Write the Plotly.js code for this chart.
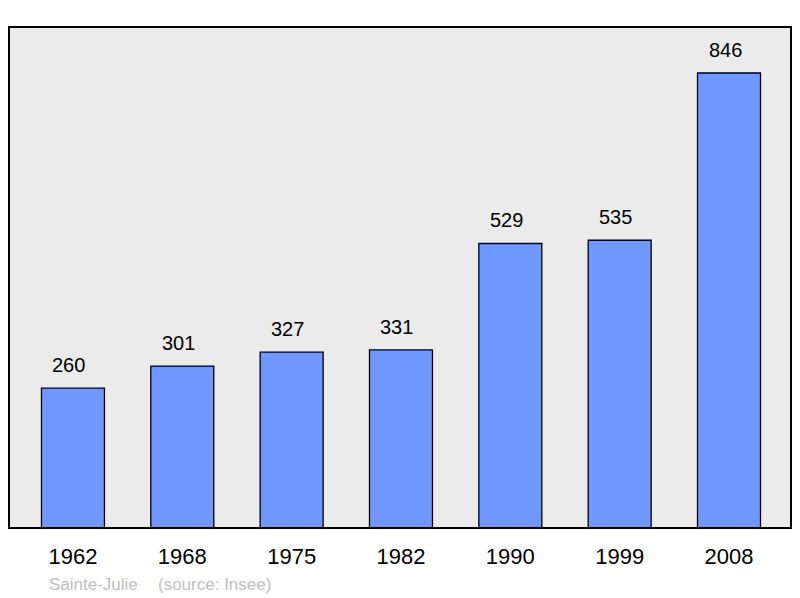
<!DOCTYPE html>
<html><head><meta charset="utf-8">
<script src="https://cdn.plot.ly/plotly-3.0.1.min.js"></script>
<style>html,body{margin:0;padding:0;background:#fff;}#chart{width:800px;height:598px;}</style>
</head><body><div id="chart"></div>
<script>
var years = ["1962","1968","1975","1982","1990","1999","2008"];
var population = [260,301,327,331,529,535,846];
var footerPlace = "Sainte-Julie";
var footerSource = "(source: Insee)";

var FONT = 'Liberation Sans, Arial, sans-serif';
var trace = {
  type: 'bar', x: years.map(function(_,i){return i;}), y: population, width: 0.576,
  marker: {color: '#7097ff', line: {color: '#000', width: 1.3}},
  hoverinfo: 'none'
};
var ann = years.map(function(y,i){
  return {x: i, y: population[i], xref:'x', yref:'y', text: String(population[i]),
    showarrow:false, yanchor:'bottom', yshift: 10, xshift: -4,
    font:{family:FONT, size:20, color:'#000'}};
});
ann.push({xref:'paper', yref:'paper', x:(47-9)/782, y:-(584-528)/501, xanchor:'left', yanchor:'middle',
  text: footerPlace, showarrow:false, font:{family:FONT, size:17, color:'#c0c0c0'}});
ann.push({xref:'paper', yref:'paper', x:(156-9)/782, y:-(584-528)/501, xanchor:'left', yanchor:'middle',
  text: footerSource, showarrow:false, font:{family:FONT, size:17, color:'#c0c0c0'}});

var layout = {
  width: 800, height: 598,
  margin: {l:9, r:9, t:27, b:70},
  paper_bgcolor: '#fff', plot_bgcolor: '#ebebeb',
  showlegend: false,
  xaxis: {type:'linear', range:[-0.585, 6.567], showgrid:false, zeroline:false, showline:false,
    ticks:'', tickmode:'array', tickvals: years.map(function(_,i){return i;}), ticktext: years,
    ticklabelstandoff: 13,
    tickfont:{family:FONT, size:22, color:'#000'}},
  yaxis: {range:[0, 931.5], showgrid:false, zeroline:false, showticklabels:false, ticks:'', showline:false},
  annotations: ann,
  shapes: [{type:'rect', xref:'paper', yref:'paper', x0:0, x1:1, y0:0, y1:1,
    line:{color:'#000', width:2}, layer:'above'}]
};
Plotly.newPlot('chart', [trace], layout, {staticPlot:true, displayModeBar:false});
</script></body></html>
